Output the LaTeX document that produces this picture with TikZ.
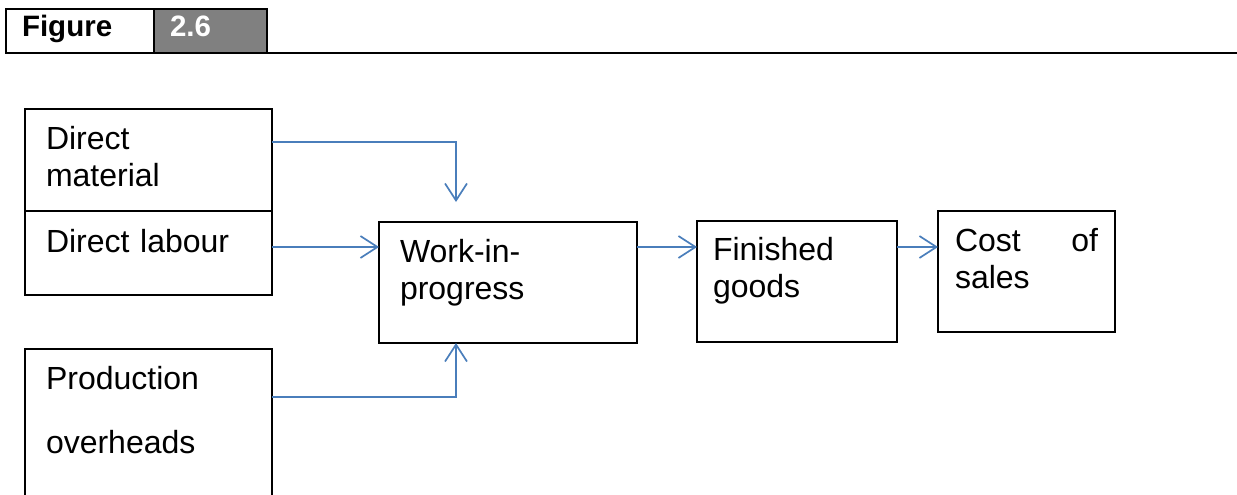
\documentclass[tikz,border=0pt]{standalone}
\usepackage{fontspec}
\setmainfont{Liberation Sans}
\usetikzlibrary{arrows.meta}

\tikzset{
  box/.style={draw=black, line width=1.6pt, anchor=north west, outer sep=0pt,
    inner ysep=0pt, align=left, font=\fontsize{32}{37}\selectfont},
  tab/.style={draw=black, line width=1.6pt, anchor=north west, outer sep=0pt,
    inner xsep=16pt, inner ysep=0pt, text height=28pt, text depth=16pt,
    align=left, font=\fontsize{29.5}{34}\selectfont\bfseries},
  flow/.style={->, draw=flowblue, line width=1.7pt},
}

\begin{document}
\begin{tikzpicture}[x=1pt,y=-1pt,>={Straight Barb[length=17pt,width=22pt]}]
    \definecolor{flowblue}{HTML}{4A7EBB}
    \definecolor{tabgray}{HTML}{808080}
    \useasboundingbox (0,0) rectangle (1237,495);
    \clip (0,0) rectangle (1237,495);
    % Cabecera
    \node[tab, text width=116pt] (figlabel) at (6,9) {Figure};
    \node[tab, fill=tabgray, text=white, text width=81pt] (fignum) at (154,9) {2.6};
    \draw[line width=1.6pt] (figlabel.south west) -- (fignum.south east -| 1237,0);
    % Costes de entrada
    \node[box, text width=205pt, inner xsep=21pt, text height=40pt, text depth=62pt]
      (dm) at (25,109) {Direct\\material};
    \node[box, text width=205pt, inner xsep=21pt, text height=41pt, text depth=43pt]
      (dl) at (25,211) {Direct labour};
    \node[box, text width=205pt, inner xsep=21pt, text height=40pt, text depth=131pt]
      (po) at (25,349) {Production\\[27pt]overheads};
    % Etapas
    \node[box, text width=216pt, inner xsep=21pt, text height=40pt, text depth=81pt]
      (wip) at (379,222) {Work-in-\\progress};
    \node[box, text width=168pt, inner xsep=16pt, text height=39pt, text depth=82pt]
      (fg) at (697,221) {Finished\\goods};
    \node[box, text width=143pt, inner xsep=17pt, text height=40pt, text depth=81pt]
      (cos) at (938,211) {Cost \hfill of\\sales};
    % Flechas
    \coordinate (dmend) at (456,202);
    \draw[flow] (dm.east |- 0,142) -| (dmend);
    \draw[flow] (dl.east |- 0,247) -- (wip.west |- 0,247);
    \draw[flow] (po.east |- 0,397) -| (wip.south -| dmend);
    \draw[flow] (wip.east |- 0,247) -- (fg.west |- 0,247);
    \draw[flow] (fg.east |- 0,247) -- (cos.west |- 0,247);
\end{tikzpicture}
\end{document}
